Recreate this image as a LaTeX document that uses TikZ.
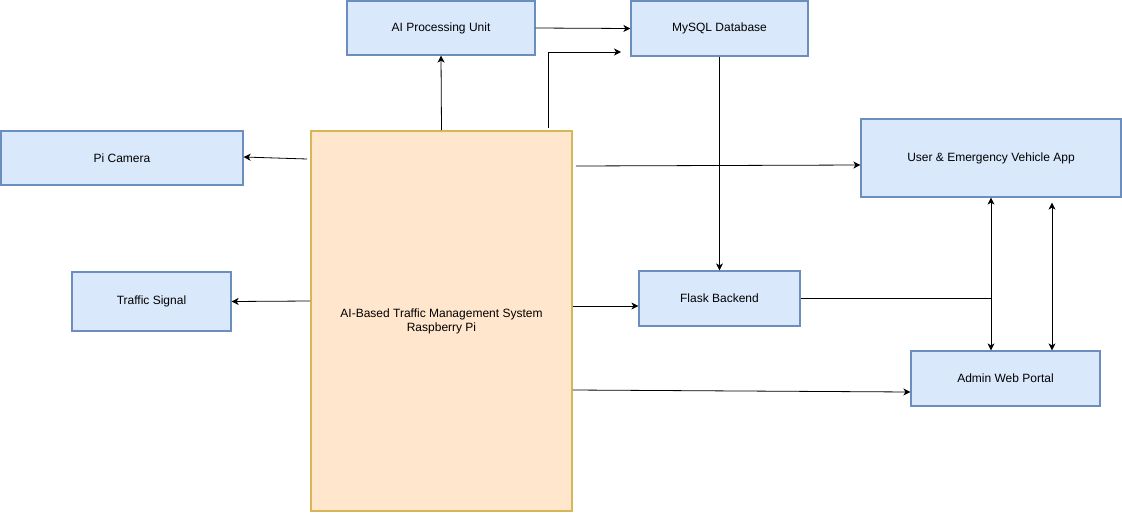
\documentclass[tikz,border=0pt]{standalone}
\usepackage{fontspec}
\setmainfont{Liberation Sans}
\usetikzlibrary{arrows.meta, positioning}

\definecolor{boxfill}{HTML}{DAE8FC}
\definecolor{boxline}{HTML}{6C8EBF}
\definecolor{corefill}{HTML}{FFE6CC}
\definecolor{coreline}{HTML}{D6B656}

\begin{document}
\begin{tikzpicture}[x=1pt, y=-1pt]
\useasboundingbox (0,0) rectangle (1122,512);
\begin{scope}[every node/.style={rectangle,draw=boxline,fill=boxfill,line width=1.2pt,
              font=\fontsize{12}{14}\selectfont,align=center,inner sep=0pt}]
    \node (core) at (441.5, 321) [draw=coreline, fill=corefill, line width=1.6pt,
          minimum width=261pt, minimum height=380pt]
          {AI-Based Traffic Management System\\Raspberry Pi};

    \node (ai) at (441, 28) [minimum width=188pt, minimum height=54pt] {AI Processing Unit};
    \node (db) at (719.5, 28.5) [minimum width=177pt, minimum height=55pt] {MySQL Database};

    \node (picam) at (122, 158) [minimum width=242pt, minimum height=54pt] {Pi Camera};
    \node (signal) at (151.5, 301.5) [minimum width=159pt, minimum height=59pt] {Traffic Signal};

    \node (flask) at (719.5, 298.5) [minimum width=161pt, minimum height=55pt] {Flask Backend};
    \node (app) at (991, 158) [minimum width=260pt, minimum height=78pt] {User \& Emergency Vehicle App};
    \node (admin) at (1005.5, 378.5) [minimum width=189pt, minimum height=55pt] {Admin Web Portal};
\end{scope}

\coordinate (dbin) at (621, 52);
\coordinate (hub) at (991, 298.5);

\begin{scope}[>={Stealth[black, length=7pt, width=7pt, inset=2pt]},
              every path/.style={draw=black, line width=0.8pt}]
    \path [->] (core.north) -- (ai.south);
    \path [->] (ai.east) -- (db.west);
    \path [->] ([xshift=106.5pt, yshift=2pt]core.north) |- (dbin);
    \path [->] (db.south) -- (flask.north);

    \path [->] ([xshift=3pt, yshift=155pt]core.east) -- ([yshift=-7pt]app.west);
    \path [->] ([yshift=15pt]core.east) -- ([yshift=-7.5pt]flask.west);
    \path [->] ([yshift=-69pt]core.east) -- ([yshift=-13.5pt]admin.west);

    \path [->] ([xshift=-3pt, yshift=162pt]core.west) -- ([yshift=1pt]picam.east);
    \path [->] ([yshift=20pt]core.west) -- (signal.east);

    \path (flask.east) -- (hub);
    \path [->] (hub) -- (app.south);
    \path [->] (hub) -- (hub |- admin.north);
    \path [<->, shorten <=5pt] ([xshift=61pt]app.south) -- ([xshift=61pt]app.south |- admin.north);
\end{scope}
\end{tikzpicture}
\end{document}
